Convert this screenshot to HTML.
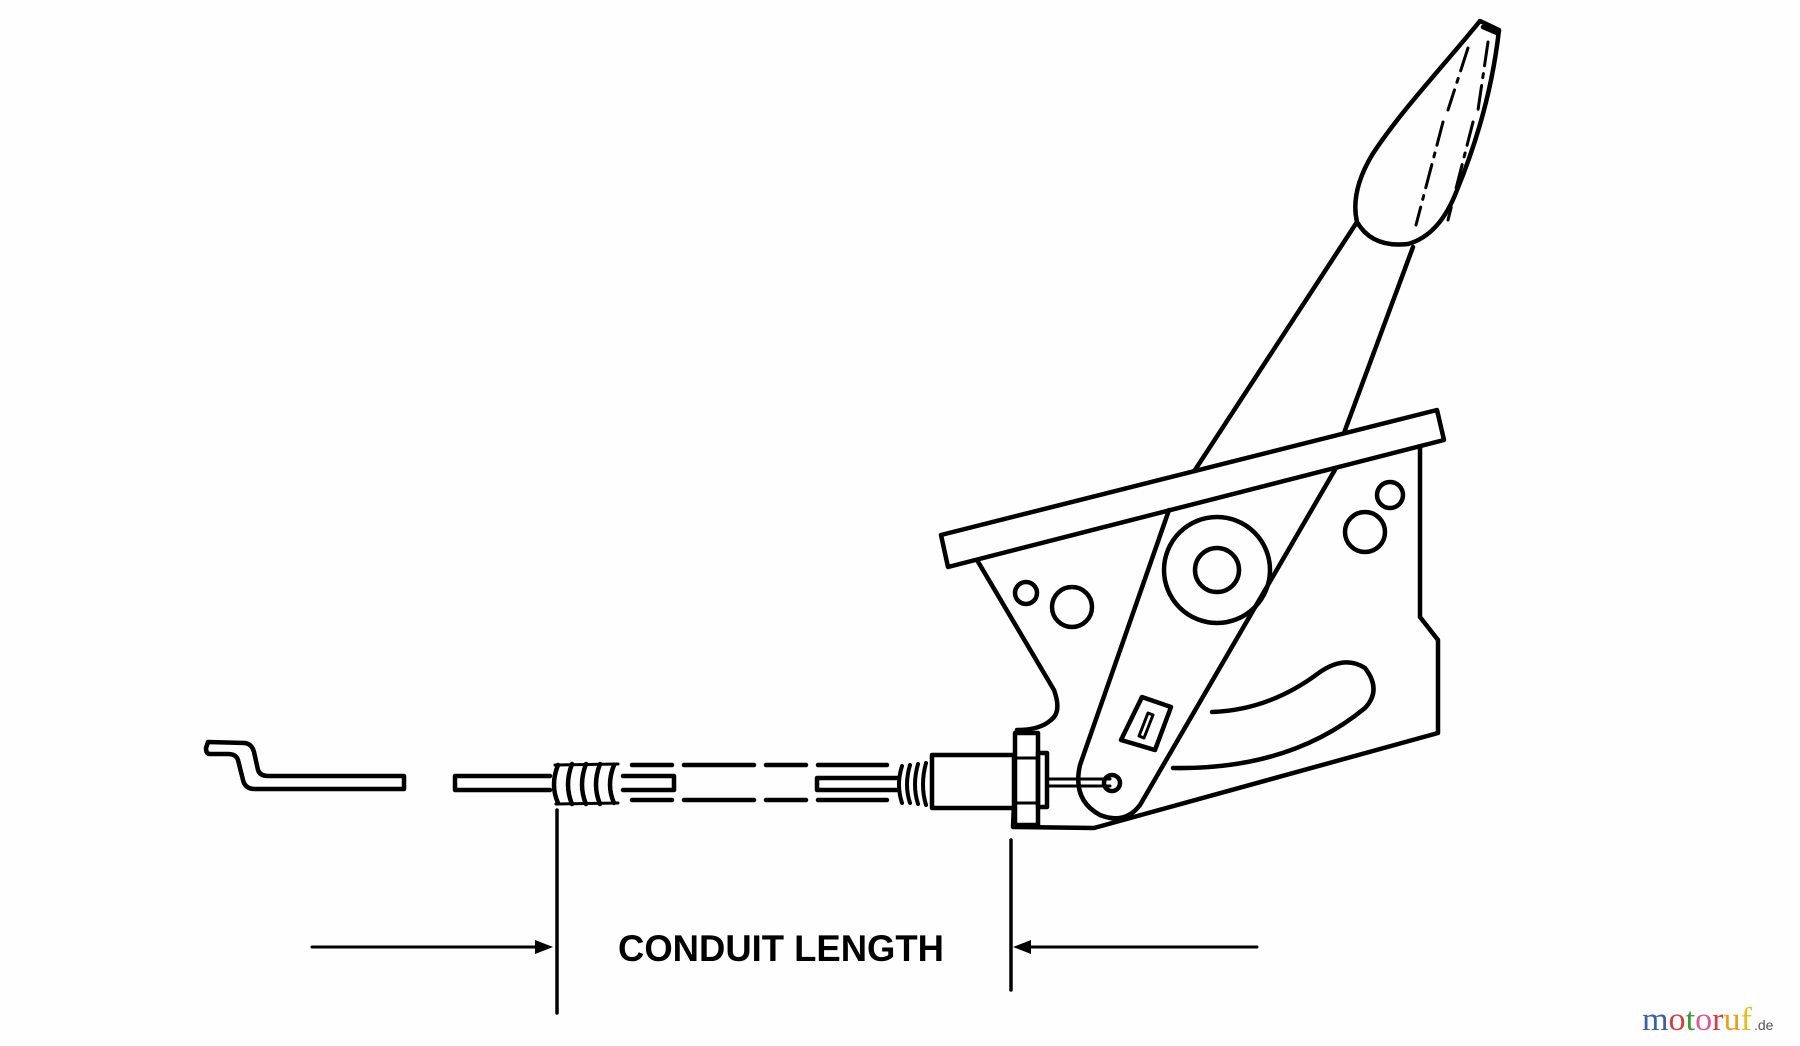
<!DOCTYPE html>
<html><head><meta charset="utf-8"><style>
html,body{margin:0;padding:0;background:#fdfefd;}
svg{display:block}
</style></head><body>
<svg width="1800" height="1046" viewBox="0 0 1800 1046" xmlns="http://www.w3.org/2000/svg">
<rect width="1800" height="1046" fill="#fdfefd"/>
<g fill="none" stroke="#000" stroke-width="4.5" stroke-linejoin="round" stroke-linecap="round">
<!-- knob -->
<path d="M1480,21 C1440,70 1400,112 1372,155 Q1350,192 1357,222 Q1372,248 1408,244 Q1440,235 1457,190 Q1490,110 1499,30 Z" fill="#fdfefd"/>
<path d="M1483,27 L1497,33" />
<path d="M1488,42 L1478,110 M1473,122 L1448,220 M1468,48 L1448,110 M1443,122 L1416,225" stroke-width="3" stroke-dasharray="24 8 4 8"/>
<!-- shaft -->
<path d="M1357,222 L1195,470"/>
<path d="M1413,247 L1344,433"/>
<!-- bar -->
<path d="M941,535 L1437,410 L1444,440 L948,567 Z" fill="#fdfefd"/>
<!-- plate -->
<path d="M977,560 L1054,690 Q1062,712 1051,720 Q1040,730 1017,730 L1013,827 L1094,828 L1438,733 L1438,640 L1420,617 L1420,447"/>
<circle cx="1026" cy="593" r="11"/>
<circle cx="1072" cy="607" r="20"/>
<circle cx="1390" cy="495" r="13"/>
<circle cx="1365" cy="532" r="20"/>
<!-- arm -->
<path d="M1169,510 L1080,765 Q1072,800 1100,815 Q1125,825 1140,805 L1336,468"/>
<circle cx="1217" cy="570" r="53"/>
<circle cx="1217" cy="570" r="22"/>
<!-- slot -->
<path d="M1212,712 Q1270,710 1320,672 Q1345,655 1365,668 Q1382,690 1365,708 Q1290,770 1173,768"/>
<!-- small rect -->
<path d="M1142,697 L1171,707 L1155,750 L1121,740 Z"/>
<path d="M1148,713 L1153,715 L1144,738 L1139,736 Z" stroke-width="3"/>
<!-- pivot & rod -->
<circle cx="1112" cy="783" r="8"/>
<path d="M1047,779 L1110,779 M1047,786 L1110,786" stroke-width="3"/>
<!-- nut -->
<rect x="1015" y="733" width="23" height="92" fill="#fdfefd"/>
<rect x="1038" y="753" width="9" height="54"/>
<path d="M1015,758 L1038,758 M1015,803 L1038,803" stroke-width="3"/>
<!-- collar -->
<rect x="932" y="755" width="82" height="53" fill="#fdfefd"/>
<!-- right spring -->
<path d="M902,766 Q896,785 902,803 M910,765 Q904,785 910,803 M918,764 Q912,785 918,804 M926,763 Q920,785 926,805" stroke-width="4"/>
<path d="M817,778 L898,778 M817,790 L898,790 M817,778 L817,790"/>
<!-- dashed conduit -->
<path d="M632,765 L887,765 M632,800 L887,800" stroke-dasharray="40 12 70 12"/>
<!-- middle wire -->
<path d="M455,776 L550,776 M455,790 L550,790 M455,776 L455,790"/>
<path d="M623,776 L674,776 L674,790 L623,790"/>
<path d="M558,765 Q550,785 558,803 M572,764 Q564,785 572,804 M586,764 Q578,785 586,804 M600,764 Q592,785 600,804 M614,765 Q606,785 614,803" stroke-width="4.5"/>
<path d="M555,765 L618,764 M556,804 L618,803" stroke-width="3"/>
<!-- left bent wire -->
<path d="M208,742 L245,743 Q252,744 254,752 L258,770 Q260,776 268,776 L404,776 L404,789 L255,789 Q245,789 243,780 L238,760 Q236,754 228,754 L210,754 Q206,754 206,748 Z"/>
<!-- dimension -->
<path d="M557,810 L557,1013" stroke-width="3.5"/>
<path d="M1011,840 L1011,990" stroke-width="3.5"/>
<path d="M312,947 L540,947" stroke-width="3"/>
<path d="M1025,947 L1257,947" stroke-width="3"/>
</g>
<path d="M553,947 L535,940 L535,954 Z"/>
<path d="M1013,947 L1031,940 L1031,954 Z"/>
<text x="618" y="961" font-family="Liberation Sans, sans-serif" font-weight="bold" font-size="37" textLength="326" lengthAdjust="spacingAndGlyphs">CONDUIT LENGTH</text>
<text x="1642" y="1030" font-family="Liberation Serif, serif" font-size="33" textLength="110" lengthAdjust="spacingAndGlyphs"><tspan fill="#3b5fa8">m</tspan><tspan fill="#d04040">o</tspan><tspan fill="#3a9a3a">t</tspan><tspan fill="#d85aa0">o</tspan><tspan fill="#d04040">r</tspan><tspan fill="#e8a020">u</tspan><tspan fill="#e0c020">f</tspan></text>
<text x="1754" y="1030" font-family="Liberation Sans, sans-serif" font-size="14" fill="#555">.de</text>
</svg>
</body></html>
